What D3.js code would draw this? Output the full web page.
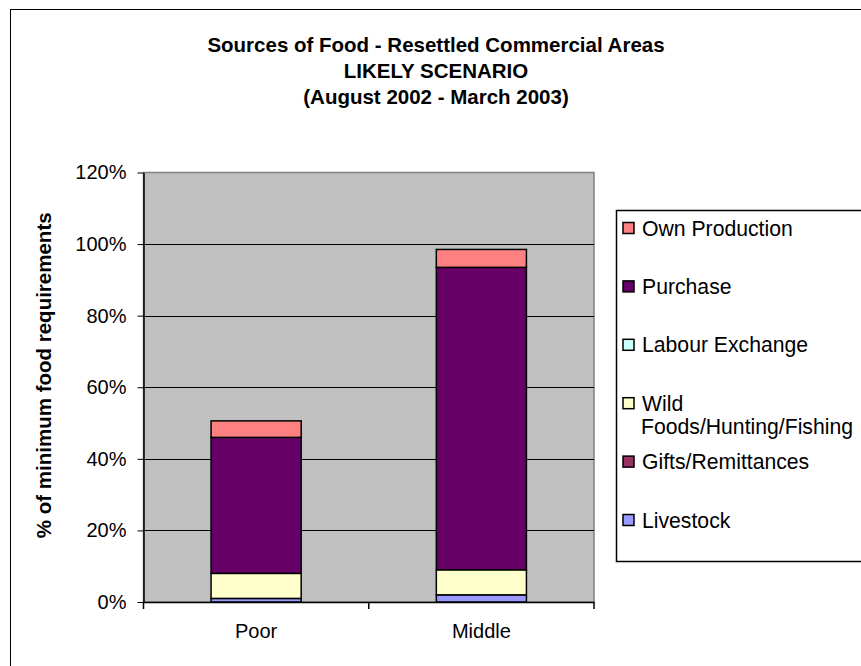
<!DOCTYPE html>
<html>
<head>
<meta charset="utf-8">
<script src="https://cdn.jsdelivr.net/npm/d3@7"></script>
<style>
  html, body { margin: 0; padding: 0; background: #fff; }
  svg { display: block; font-family: "Liberation Sans", Arial, sans-serif; }
</style>
</head>
<body>
<svg id="chart" width="861" height="666"></svg>
<script>
// Food sources by wealth group, % of minimum food requirements
const categories = ["Poor", "Middle"];
const seriesNames = ["Livestock", "Gifts/Remittances", "Wild Foods/Hunting/Fishing", "Labour Exchange", "Purchase", "Own Production"];
const livestock = [1, 2];
const gifts = [0, 0];
const wildFoods = [7, 7];
const labourExchange = [0, 0];
const purchase = [38, 84.5];
const ownProduction = [4.6, 5];
const yTicks = [0, 20, 40, 60, 80, 100, 120];
const titleLines = ["Sources of Food - Resettled Commercial Areas", "LIKELY SCENARIO", "(August 2002 - March 2003)"];

const colors = {
  "Livestock": "#9999FF",
  "Gifts/Remittances": "#993366",
  "Wild Foods/Hunting/Fishing": "#FFFFCC",
  "Labour Exchange": "#CCFFFF",
  "Purchase": "#660066",
  "Own Production": "#FF8080"
};

const seriesValues = [livestock, gifts, wildFoods, labourExchange, purchase, ownProduction];
const rows = categories.map((c, i) => {
  const r = { category: c };
  seriesNames.forEach((s, k) => { r[s] = seriesValues[k][i]; });
  return r;
});

const svg = d3.select("#chart");

// Outer chart frame (runs off the right and bottom edges)
svg.append("rect")
  .attr("x", 10.5).attr("y", 9.5)
  .attr("width", 900).attr("height", 700)
  .attr("fill", "#fff").attr("stroke", "#000").attr("stroke-width", 1);

// Title
const title = svg.append("text")
  .attr("text-anchor", "middle")
  .attr("font-weight", "bold")
  .attr("font-size", "20.5px")
  .attr("fill", "#000");
titleLines.forEach((t, i) => {
  title.append("tspan").attr("x", 436).attr("y", 52 + i * 26).text(t);
});

const plot = { left: 143.5, right: 594, top: 172.5, bottom: 602 };

const x = d3.scaleBand()
  .domain(categories)
  .range([plot.left, plot.right])
  .paddingInner(0.6)
  .paddingOuter(0.3);

const y = d3.scaleLinear()
  .domain([0, 120])
  .range([plot.bottom, plot.top]);

// Plot background
svg.append("rect")
  .attr("x", plot.left).attr("y", plot.top)
  .attr("width", plot.right - plot.left).attr("height", plot.bottom - plot.top)
  .attr("fill", "#C0C0C0").attr("stroke", "#808080").attr("stroke-width", 1.5);

// Gridlines
svg.append("g")
  .selectAll("line")
  .data(yTicks.filter(t => t > 0 && t < 120))
  .join("line")
  .attr("x1", plot.left).attr("x2", plot.right)
  .attr("y1", d => Math.round(y(d)) + 0.5).attr("y2", d => Math.round(y(d)) + 0.5)
  .attr("stroke", "#000").attr("stroke-width", 1);

// Stacked bars
const stack = d3.stack().keys(seriesNames);
const layers = stack(rows);

svg.append("g")
  .selectAll("g")
  .data(layers)
  .join("g")
  .attr("fill", d => colors[d.key])
  .selectAll("rect")
  .data(d => d.filter(p => p[1] - p[0] > 0))
  .join("rect")
  .attr("x", d => x(d.data.category))
  .attr("width", x.bandwidth())
  .attr("y", d => y(d[1]))
  .attr("height", d => y(d[0]) - y(d[1]))
  .attr("stroke", "#000")
  .attr("stroke-width", 1.5);

// Y axis
const yAxis = svg.append("g")
  .attr("transform", `translate(${plot.left},0)`)
  .call(d3.axisLeft(y).tickValues(yTicks).tickFormat(d => d + "%").tickSize(6).tickSizeOuter(0));
yAxis.select(".domain").attr("stroke", "#000").attr("stroke-width", 1.5);
yAxis.selectAll(".tick line").attr("stroke", "#000");
yAxis.selectAll(".tick text")
  .attr("font-family", "Liberation Sans, Arial, sans-serif")
  .attr("font-size", "20px").attr("fill", "#000").attr("x", -17);

// X axis
const xAxis = svg.append("g")
  .attr("transform", `translate(0,${plot.bottom})`)
  .call(d3.axisBottom(x).tickSize(0).tickSizeOuter(0));
xAxis.select(".domain").attr("stroke", "#000").attr("stroke-width", 1.5);
xAxis.selectAll(".tick text")
  .attr("font-family", "Liberation Sans, Arial, sans-serif")
  .attr("font-size", "20px").attr("fill", "#000").attr("y", 22);
// category separators on the x axis
const sepX = d3.range(categories.length + 1).map(i => plot.left + i * (plot.right - plot.left) / categories.length);
xAxis.selectAll(".sep")
  .data(sepX)
  .join("line")
  .attr("class", "sep")
  .attr("x1", d => d).attr("x2", d => d)
  .attr("y1", 0).attr("y2", 7)
  .attr("stroke", "#000").attr("stroke-width", 1.5);

// Y axis title
svg.append("text")
  .attr("transform", `translate(51,${(plot.top + plot.bottom) / 2 - 12}) rotate(-90)`)
  .attr("text-anchor", "middle")
  .attr("font-weight", "bold")
  .attr("font-size", "20.5px")
  .attr("fill", "#000")
  .text("% of minimum food requirements");

// Legend (top entry = top of stack)
const legend = svg.append("g");
legend.append("rect")
  .attr("x", 616.5).attr("y", 210.5)
  .attr("width", 300).attr("height", 351)
  .attr("fill", "#fff").attr("stroke", "#000").attr("stroke-width", 1.5);

const legendItems = seriesNames.slice().reverse();
const labelLines = {
  "Wild Foods/Hunting/Fishing": ["Wild", "Foods/Hunting/Fishing"]
};
legendItems.forEach((name, i) => {
  const cy = 228 + i * 58.4;
  const g = legend.append("g");
  g.append("rect")
    .attr("x", 623).attr("y", cy - 5.5)
    .attr("width", 11).attr("height", 11)
    .attr("fill", colors[name]).attr("stroke", "#000").attr("stroke-width", 1.5);
  const lines = labelLines[name] || [name];
  const t = g.append("text")
    .attr("font-size", "21.2px").attr("fill", "#000");
  lines.forEach((ln, j) => {
    t.append("tspan")
      .attr("x", j === 0 ? 642 : 641)
      .attr("y", cy + 7.5 + j * 23)
      .text(ln);
  });
});
</script>
</body>
</html>
